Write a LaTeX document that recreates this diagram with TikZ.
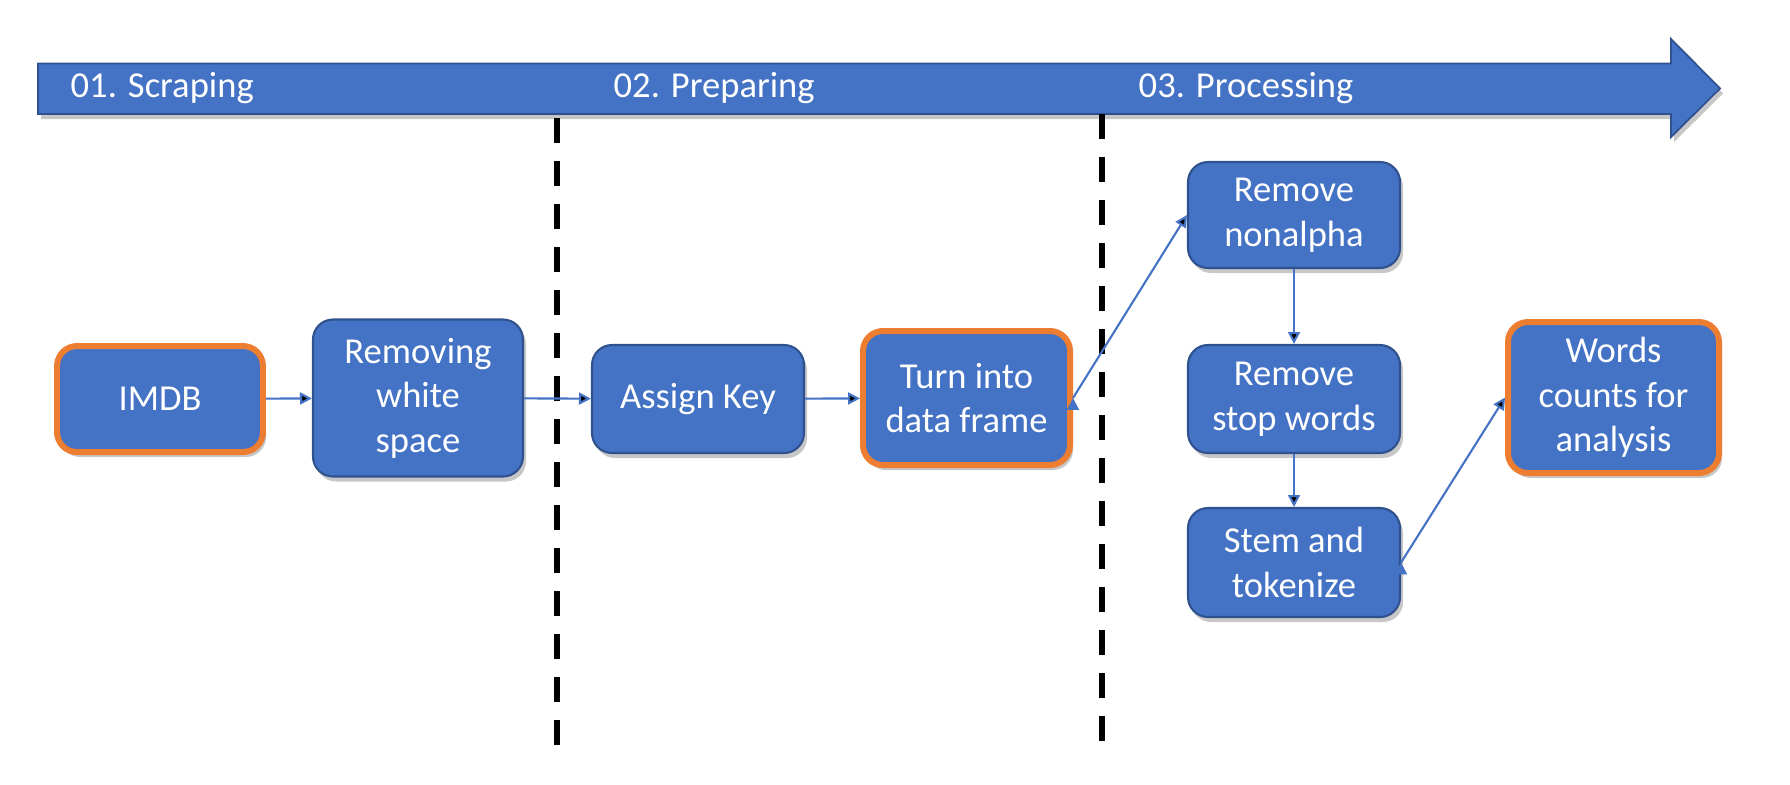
\documentclass[tikz,border=0pt]{standalone}
\usepackage{fontspec}
\setmainfont{Carlito}
\usetikzlibrary{arrows.meta,shadows}

\definecolor{boxblue}{HTML}{4472C4}
\definecolor{boxedge}{HTML}{2F528F}
\definecolor{keyorange}{HTML}{ED7D31}

\begin{document}
\begin{tikzpicture}[>={Triangle[length=3.4pt,width=3.4pt]},
    softshadow/.style={drop shadow={shadow xshift=0.03cm, shadow yshift=-0.05cm, opacity=0.22, fill=black}},
    task/.style={rectangle, rounded corners=0.2cm, fill=boxblue, draw=boxedge, line width=0.6pt,
        text=white, align=center, inner sep=0pt, minimum width=2.12cm, minimum height=1.08cm,
        font=\fontsize{10.4}{12.7}\selectfont, softshadow},
    keytask/.style={task, draw=keyorange, line width=1.7pt},
    phase/.style={text=white, anchor=west, inner sep=0pt, font=\fontsize{10.4}{12.7}\selectfont},
    divider/.style={line width=1.6pt, dash pattern=on 0.25cm off 0.18cm},
    flow/.style={->, draw=boxblue, line width=0.6pt}]
    \useasboundingbox (0,0) rectangle (17.90,-7.84);

    % Timeline banner
    \path [fill=boxblue, draw=boxedge, line width=0.5pt, softshadow]
        (0.38,-0.635) -- (16.71,-0.635) -- (16.71,-0.39) -- (17.20,-0.885)
        -- (16.71,-1.37) -- (16.71,-1.14) -- (0.38,-1.14) -- cycle;
    \node [phase] (scrape)  at (0.70,-0.885)  {01. Scraping};
    \node [phase] (prepare) at (6.13,-0.885)  {02. Preparing};
    \node [phase] (process) at (11.38,-0.885) {03. Processing};

    % Phase dividers
    \coordinate (d1top) at (5.57,-1.18);
    \coordinate (d1bot) at (5.57,-7.50);
    \coordinate (d2top) at (11.02,-1.14);
    \coordinate (d2bot) at (11.02,-7.48);
    \draw [divider] (d1top) -- (d1bot);
    \draw [divider] (d2top) -- (d2bot);

    % Nodes
    \node [keytask] (imdb)      at (1.60,-3.99)  [minimum width=2.06cm, minimum height=1.06cm] {IMDB};
    \node [task]    (strip)     at (4.18,-3.98)  [minimum width=2.10cm, minimum height=1.57cm] {Removing\\white\\space};
    \node [task]    (assign)    at (6.98,-3.99)  {Assign Key};
    \node [keytask] (frame)     at (9.665,-3.98) [minimum width=2.07cm, minimum height=1.34cm] {Turn into\\data frame};
    \node [task]    (nonalpha)  at (12.94,-2.15) [minimum height=1.06cm] {Remove\\nonalpha};
    \node [task]    (stopwords) at (12.94,-3.99) {Remove\\stop words};
    \node [task]    (stem)      at (12.94,-5.625) [minimum height=1.09cm] {Stem and\\tokenize};
    \node [keytask] (counts)    at (16.135,-3.975) [minimum width=2.11cm, minimum height=1.51cm] {Words\\counts for\\analysis};

    % Paths
    \path [flow] (imdb)           edge (strip);
    \path [flow] (strip)          edge (assign);
    \path [flow] (assign)         edge (frame);
    \path [flow] (frame.east)     edge (nonalpha.west);
    \path [flow] (nonalpha)       edge (stopwords);
    \path [flow] (stopwords)      edge (stem);
    \path [flow] (stem.east)      edge (counts.west);

\end{tikzpicture}
\end{document}
